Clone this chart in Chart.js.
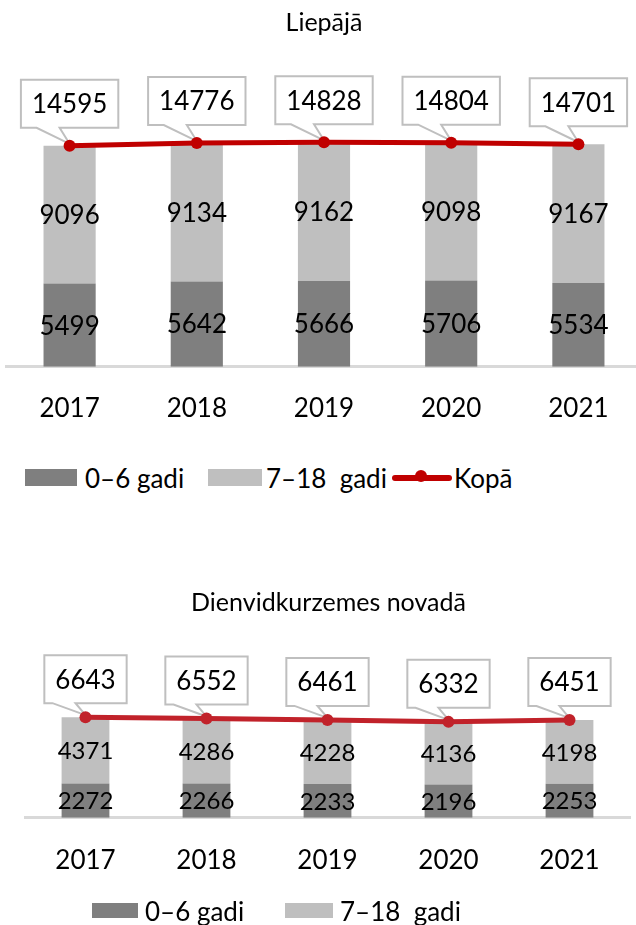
<!DOCTYPE html>
<html lang="lv">
<head>
<meta charset="utf-8">
<title>Bērnu skaits</title>
<script src="https://cdn.jsdelivr.net/npm/chart.js@4.4.1/dist/chart.umd.min.js"></script>
<style>
  html, body { margin: 0; padding: 0; background: #fff; overflow: hidden; }
  body { width: 636px; height: 925px; position: relative; font-family: Lato, "Noto Sans", sans-serif; }
  .box { position: absolute; }
  .sw { position: absolute; }
  .lbl { position: absolute; font-size: 26px; line-height: 30px; color: #000; white-space: pre; }
</style>
</head>
<body>

<div class="box" id="topWrap" style="left:0; top:0; width:648px; height:456px;">
  <canvas id="liepajaChart"></canvas>
</div>

<!-- legenda Liepājai -->
<div class="sw" style="left:25px; top:469px; width:52px; height:17px; background:#7f7f7f;"></div>
<div class="lbl" style="left:85px; top:463px;">0–6 gadi</div>
<div class="sw" style="left:208px; top:469px; width:54px; height:17px; background:#bfbfbf;"></div>
<div class="lbl" style="left:266px; top:463px;">7–18  gadi</div>
<div class="sw" style="left:392px; top:475px; width:60px; height:6px; border-radius:3px; background:#c00000;"></div>
<div class="sw" style="left:415px; top:470px; width:12px; height:12px; border-radius:6px; background:#c00000;"></div>
<div class="lbl" style="left:454px; top:463px;">Kopā</div>

<div class="box" id="bottomWrap" style="left:0; top:580px; width:636px; height:329px;">
  <canvas id="novadsChart"></canvas>
</div>

<!-- legenda novadam -->
<div class="sw" style="left:92px; top:903px; width:46px; height:15px; background:#7f7f7f;"></div>
<div class="lbl" style="left:145px; top:896px;">0–6 gadi</div>
<div class="sw" style="left:285px; top:903px; width:48px; height:15px; background:#bfbfbf;"></div>
<div class="lbl" style="left:340px; top:896px;">7–18  gadi</div>

<script>
const years = ['2017', '2018', '2019', '2020', '2021'];

const liepajaAge0to6 = [5499, 5642, 5666, 5706, 5534];
const liepajaAge7to18 = [9096, 9134, 9162, 9098, 9167];
const liepajaTotal = [14595, 14776, 14828, 14804, 14701];

const novadsAge0to6 = [2272, 2266, 2233, 2196, 2253];
const novadsAge7to18 = [4371, 4286, 4228, 4136, 4198];
const novadsTotal = [6643, 6552, 6461, 6332, 6451];

const FONT = 'Lato, "Noto Sans", sans-serif';

// skaitļi stabiņu vidū
function barLabelsPlugin(fontSize) {
  return {
    id: 'barLabels',
    afterDatasetsDraw(chart) {
      const ctx = chart.ctx;
      ctx.save();
      ctx.font = `${fontSize}px ${FONT}`;
      ctx.fillStyle = '#000';
      ctx.textAlign = 'center';
      ctx.textBaseline = 'middle';
      chart.data.datasets.forEach((ds, i) => {
        if (ds.type !== 'bar') return;
        chart.getDatasetMeta(i).data.forEach((el, j) => {
          ctx.fillText(String(ds.data[j]), el.x, (el.y + el.base) / 2 + 1);
        });
      });
      ctx.restore();
    }
  };
}

// "Kopā" vērtības rāmītī ar bultiņu uz punktu
function calloutPlugin(gap) {
  return {
    id: 'callouts',
    beforeDatasetsDraw(chart) {
      const ctx = chart.ctx;
      const idx = chart.data.datasets.findIndex(ds => ds.type === 'line');
      const ds = chart.data.datasets[idx];
      ctx.save();
      ctx.font = `26px ${FONT}`;
      chart.getDatasetMeta(idx).data.forEach((pt, j) => {
        const text = String(ds.data[j]);
        const w = ctx.measureText(text).width + 22;
        const h = 48;
        const cx = pt.x;
        const bottom = pt.y - gap;
        const left = cx - w / 2;
        const top = bottom - h;

        ctx.beginPath();
        ctx.moveTo(left, top);
        ctx.lineTo(left + w, top);
        ctx.lineTo(left + w, bottom);
        ctx.lineTo(cx - 10, bottom);
        ctx.lineTo(pt.x, pt.y - 2);
        ctx.lineTo(cx - 33, bottom);
        ctx.lineTo(left, bottom);
        ctx.closePath();
        ctx.fillStyle = '#fff';
        ctx.fill();
        ctx.strokeStyle = '#bfbfbf';
        ctx.lineWidth = 2;
        ctx.stroke();

        ctx.fillStyle = '#000';
        ctx.textAlign = 'center';
        ctx.textBaseline = 'middle';
        ctx.fillText(text, cx, top + h / 2 + 1);
      });
      ctx.restore();
    }
  };
}

function drawChart(canvasId, opts) {
  const ctx = document.getElementById(canvasId).getContext('2d');
  return new Chart(ctx, {
    data: {
      labels: years,
      datasets: [
        {
          type: 'line',
          label: 'Kopā',
          data: opts.total,
          borderColor: opts.lineColor,
          backgroundColor: opts.lineColor,
          borderWidth: 5,
          pointRadius: 6,
          pointBorderWidth: 0,
          tension: 0,
          order: 0
        },
        {
          type: 'bar',
          label: '0–6 gadi',
          data: opts.young,
          backgroundColor: '#7f7f7f',
          barPercentage: opts.barPct,
          categoryPercentage: 1,
          order: 1
        },
        {
          type: 'bar',
          label: '7–18  gadi',
          data: opts.older,
          backgroundColor: '#bfbfbf',
          barPercentage: opts.barPct,
          categoryPercentage: 1,
          order: 1
        }
      ]
    },
    options: {
      responsive: true,
      maintainAspectRatio: false,
      animation: false,
      layout: { padding: opts.padding },
      plugins: {
        legend: { display: false },
        tooltip: { enabled: false },
        title: {
          display: true,
          text: opts.title,
          color: '#000',
          font: { family: FONT, size: 25, weight: 'normal' },
          padding: { top: opts.titleTop, bottom: opts.titleBottom }
        }
      },
      scales: {
        x: {
          stacked: true,
          grid: { display: false, drawTicks: false },
          border: { display: true, color: '#d9d9d9', width: 3 },
          ticks: { color: '#000', padding: opts.tickPad, font: { family: FONT, size: 26 } }
        },
        y: {
          stacked: true,
          display: false,
          min: 0,
          max: opts.yMax
        }
      }
    },
    plugins: [barLabelsPlugin(opts.barFont), calloutPlugin(opts.gap)]
  });
}

drawChart('liepajaChart', {
  title: 'Liepājā',
  young: liepajaAge0to6,
  older: liepajaAge7to18,
  total: liepajaTotal,
  lineColor: '#c00000',
  barPct: 0.41,
  barFont: 26,
  gap: 18,
  yMax: 20000,
  tickPad: 26,
  titleTop: 8,
  titleBottom: 26,
  padding: { left: 4, right: 4, top: 0, bottom: 6 }
});

drawChart('novadsChart', {
  title: 'Dienvidkurzemes novadā',
  young: novadsAge0to6,
  older: novadsAge7to18,
  total: novadsTotal,
  lineColor: '#c1222a',
  barPct: 0.395,
  barFont: 24,
  gap: 14,
  yMax: 12000,
  tickPad: 27,
  titleTop: 8,
  titleBottom: 18,
  padding: { left: 25, right: 4, top: 0, bottom: 6 }
});
</script>
</body>
</html>
